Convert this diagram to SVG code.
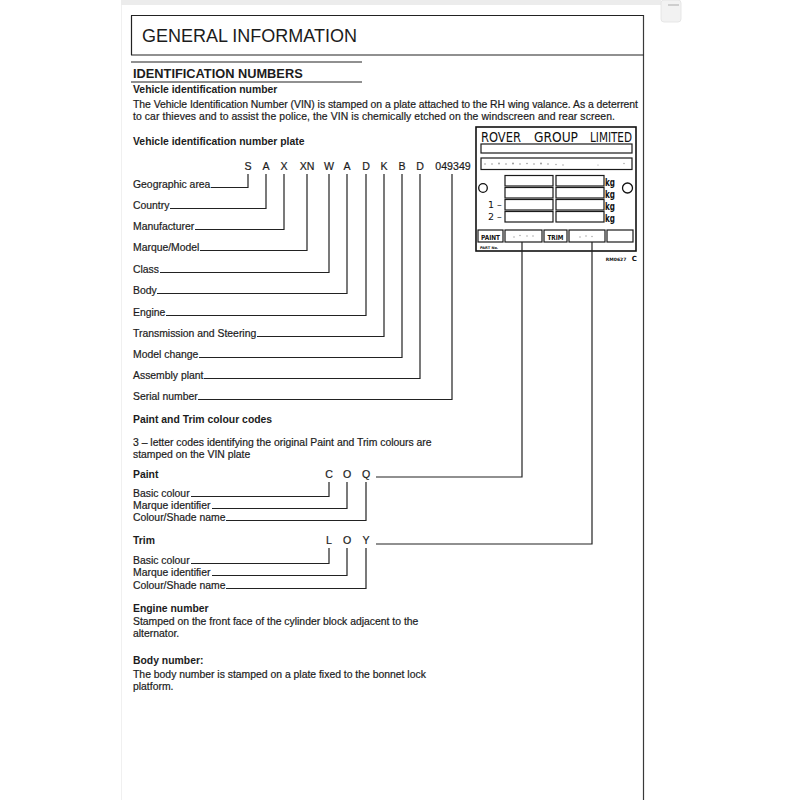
<svg xmlns="http://www.w3.org/2000/svg" width="800" height="800" viewBox="0 0 800 800">
<style>
text{font-family:"Liberation Sans",Arial,sans-serif;fill:#1c1c1c}
.t{font-size:10.4px;stroke:#1c1c1c;stroke-width:0.2}
.b{font-size:10.4px;font-weight:bold}
.v{font-size:10.6px;stroke:#1c1c1c;stroke-width:0.2}
.ln{fill:none;stroke:#222;stroke-width:1.2}
.box{fill:#fff;stroke:#1a1a1a;stroke-width:1.2}
.pl{font-family:"DejaVu Sans","Liberation Sans",sans-serif;fill:#111}
.kg{font-size:10px;font-weight:bold}
.dot{fill:#9a9a9a}
</style>
<rect width="800" height="800" fill="#fff"/>
<g id="page">
<rect x="121" y="0" width="540" height="5" fill="#ececec"/>
<rect x="661" y="0" width="20" height="22" rx="3" fill="#f2f2f2" stroke="#e2e2e2" stroke-width="0.8"/>
<line x1="668" y1="5" x2="679" y2="5" stroke="#aaa" stroke-width="1"/>
<line x1="121.5" y1="5" x2="121.5" y2="800" stroke="#f0f0f0" stroke-width="1"/>
<line x1="643.5" y1="15" x2="643.5" y2="800" stroke="#3a3a3a" stroke-width="1.2"/>
</g>
<g id="header">
<path d="M131,15.5 H643.5 M131,55 H643.5 M131.5,15.5 V55" class="ln" stroke-width="1.3"/>
<text x="142" y="42" font-size="18">GENERAL INFORMATION</text>
</g>
<g id="section-title">
<path d="M131,62 H362 M131,82 H362" class="ln" stroke-width="1.3"/>
<text x="133" y="78" font-size="12.8" font-weight="bold">IDENTIFICATION NUMBERS</text>
</g>
<g id="vin-intro">
<text class="b" x="133" y="93">Vehicle identification number</text>
<text class="t" x="133" y="108" textLength="505">The Vehicle Identification Number (VIN) is stamped on a plate attached to the RH wing valance. As a deterrent</text>
<text class="t" x="133" y="120" textLength="482">to car thieves and to assist the police, the VIN is chemically etched on the windscreen and rear screen.</text>
<text class="b" x="133" y="145">Vehicle identification number plate</text>
</g>
<g id="vin-code" text-anchor="middle">
<text class="v" x="248" y="170">S</text>
<text class="v" x="266" y="170">A</text>
<text class="v" x="284" y="170">X</text>
<text class="v" x="307" y="170">XN</text>
<text class="v" x="329" y="170">W</text>
<text class="v" x="347" y="170">A</text>
<text class="v" x="366" y="170">D</text>
<text class="v" x="384" y="170">K</text>
<text class="v" x="402" y="170">B</text>
<text class="v" x="420" y="170">D</text>
<text class="v" x="453" y="170">049349</text>
</g>
<g id="vin-labels">
<text class="t" x="133" y="188">Geographic area</text>
<text class="t" x="133" y="209">Country</text>
<text class="t" x="133" y="230">Manufacturer</text>
<text class="t" x="133" y="251">Marque/Model</text>
<text class="t" x="133" y="273">Class</text>
<text class="t" x="133" y="294">Body</text>
<text class="t" x="133" y="316">Engine</text>
<text class="t" x="133" y="337">Transmission and Steering</text>
<text class="t" x="133" y="358">Model change</text>
<text class="t" x="133" y="379">Assembly plant</text>
<text class="t" x="133" y="400">Serial number</text>
</g>
<g id="paint-trim-text">
<text class="b" x="133" y="423">Paint and Trim colour codes</text>
<text class="t" x="133" y="446">3 – letter codes identifying the original Paint and Trim colours are</text>
<text class="t" x="133" y="458">stamped on the VIN plate</text>
</g>
<g id="paint">
<text class="b" x="133" y="478">Paint</text>
<g text-anchor="middle">
<text class="v" x="329" y="478">C</text>
<text class="v" x="347" y="478">O</text>
<text class="v" x="366" y="478">Q</text>
</g>
<text class="t" x="133" y="497">Basic colour</text>
<text class="t" x="133" y="509">Marque identifier</text>
<text class="t" x="133" y="521">Colour/Shade name</text>
</g>
<g id="trim">
<text class="b" x="133" y="544">Trim</text>
<g text-anchor="middle">
<text class="v" x="329" y="544">L</text>
<text class="v" x="347" y="544">O</text>
<text class="v" x="366" y="544">Y</text>
</g>
<text class="t" x="133" y="564">Basic colour</text>
<text class="t" x="133" y="576">Marque identifier</text>
<text class="t" x="133" y="589">Colour/Shade name</text>
</g>
<g id="engine-number">
<text class="b" x="133" y="612">Engine number</text>
<text class="t" x="133" y="625">Stamped on the front face of the cylinder block adjacent to the</text>
<text class="t" x="133" y="637">alternator.</text>
</g>
<g id="body-number">
<text class="b" x="133" y="664">Body number:</text>
<text class="t" x="133" y="678">The body number is stamped on a plate fixed to the bonnet lock</text>
<text class="t" x="133" y="690">platform.</text>
</g>
<g id="vin-plate">
<rect x="476" y="127" width="160" height="124" fill="#fff" stroke="#111" stroke-width="1.6"/>
<text class="pl" x="481" y="141.5" font-size="13.5" textLength="40" lengthAdjust="spacingAndGlyphs">ROVER</text>
<text class="pl" x="534" y="141.5" font-size="13.5" textLength="44" lengthAdjust="spacingAndGlyphs">GROUP</text>
<text class="pl" x="590" y="141.5" font-size="13.5" textLength="42" lengthAdjust="spacingAndGlyphs">LIMITED</text>
<rect class="box" x="481" y="144" width="151" height="9"/>
<rect class="box" x="481" y="158" width="151" height="11.5" stroke-width="0.9"/>
<g class="dot">
<circle cx="485" cy="164" r="0.8"/><circle cx="492" cy="164" r="0.8"/><circle cx="499" cy="163.5" r="0.9"/><circle cx="506" cy="164" r="0.8"/><circle cx="513" cy="163.5" r="1"/><circle cx="520" cy="164" r="0.8"/><circle cx="527" cy="163.5" r="0.8"/><circle cx="534" cy="164" r="0.8"/><circle cx="541" cy="163.5" r="1"/><circle cx="548" cy="164" r="0.8"/><circle cx="556" cy="164.5" r="0.7"/><circle cx="563" cy="165" r="0.7"/><circle cx="598" cy="165" r="0.6"/><circle cx="624" cy="163.5" r="0.7"/>
</g>
<g>
<rect class="box" x="505" y="175.5" width="48" height="10.5"/>
<rect class="box" x="556" y="175.5" width="48" height="10.5"/>
<rect class="box" x="505" y="187.5" width="48" height="10.5"/>
<rect class="box" x="556" y="187.5" width="48" height="10.5"/>
<rect class="box" x="505" y="199.5" width="48" height="10.5"/>
<rect class="box" x="556" y="199.5" width="48" height="10.5"/>
<rect class="box" x="505" y="211.5" width="48" height="10.5"/>
<rect class="box" x="556" y="211.5" width="48" height="10.5"/>
</g>
<text class="pl kg" x="605" y="185.5" textLength="10" lengthAdjust="spacingAndGlyphs">kg</text>
<text class="pl kg" x="605" y="197.5" textLength="10" lengthAdjust="spacingAndGlyphs">kg</text>
<text class="pl kg" x="605" y="209.5" textLength="10" lengthAdjust="spacingAndGlyphs">kg</text>
<text class="pl kg" x="605" y="221.5" textLength="10" lengthAdjust="spacingAndGlyphs">kg</text>
<circle cx="483" cy="188" r="4.3" fill="#fff" stroke="#111" stroke-width="1.3"/>
<circle cx="627.5" cy="188" r="5" fill="#fff" stroke="#111" stroke-width="1.3"/>
<text class="pl" x="488" y="207.5" font-size="9.5">1 –</text>
<text class="pl" x="488" y="219.5" font-size="9.5">2 –</text>
<rect class="box" x="478" y="230" width="25" height="12" stroke-width="1.8"/>
<text class="pl" x="490.5" y="239.5" font-size="7" font-weight="bold" text-anchor="middle" textLength="19" lengthAdjust="spacingAndGlyphs">PAINT</text>
<rect class="box" x="505" y="230" width="37" height="12" stroke-width="1"/>
<rect class="box" x="544" y="230" width="23" height="12" stroke-width="1.8"/>
<text class="pl" x="555.5" y="239.5" font-size="7" font-weight="bold" text-anchor="middle" textLength="16" lengthAdjust="spacingAndGlyphs">TRIM</text>
<rect class="box" x="569" y="230" width="36" height="12" stroke-width="1"/>
<rect class="box" x="607" y="230" width="26" height="12" stroke-width="1"/>
<g class="dot">
<circle cx="514" cy="237" r="0.7"/><circle cx="520" cy="235.5" r="0.7"/><circle cx="527" cy="236" r="0.7"/><circle cx="533" cy="236" r="0.7"/>
<circle cx="580" cy="237" r="0.7"/><circle cx="586" cy="236" r="0.7"/><circle cx="592" cy="236.5" r="0.7"/>
</g>
<text class="pl" x="480" y="248.5" font-size="3.6" font-weight="bold">PART No.</text>
</g>
<text class="pl" x="637" y="261" text-anchor="end" font-weight="bold"><tspan font-size="4.5">RM0627</tspan> <tspan font-size="7">C</tspan></text>
<g id="connectors" class="ln">
<path d="M211,187.5 H248 V174"/>
<path d="M170,208.5 H266 V174"/>
<path d="M195,229.5 H284 V174"/>
<path d="M200,250.5 H307 V174"/>
<path d="M160,272.5 H329 V174"/>
<path d="M157,293.5 H347 V174"/>
<path d="M166,315.5 H366 V174"/>
<path d="M257,336.5 H384 V174"/>
<path d="M199,357.5 H402 V174"/>
<path d="M204,378.5 H420 V174"/>
<path d="M198,399.5 H452 V174"/>
<path d="M191,496.5 H329 V482"/>
<path d="M212,508.5 H347 V482"/>
<path d="M226,520.5 H366 V482"/>
<path d="M376,477 H522 V242"/>
<path d="M191,563.5 H329 V548"/>
<path d="M212,575.5 H347 V548"/>
<path d="M226,588.5 H366 V548"/>
<path d="M376,544 H592 V242"/>
</g>
</svg>
